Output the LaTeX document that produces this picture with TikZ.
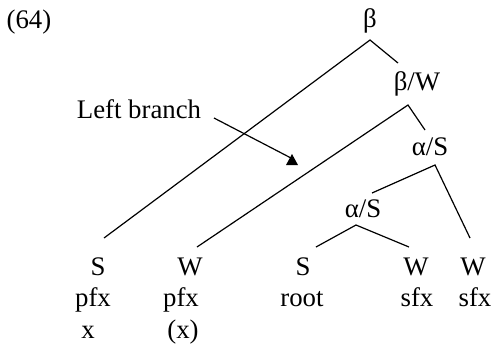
\documentclass[tikz,border=0pt]{standalone}
\usepackage{fontspec}
\setmainfont{Liberation Serif}
\begin{document}
\begin{tikzpicture}[x=0.5pt,y=-0.5pt,
  lbl/.style={inner sep=0pt,anchor=base,font=\fontsize{13.4}{16}\selectfont},
  br/.style={line width=0.6pt}]
\useasboundingbox (0,0) rectangle (492,345);
% labels
\node[lbl] (ex) at (29,28) {(64)};
\node[lbl] (beta) at (370,27) {β};
\node[lbl] (bw) at (417,90) {β/W};
\node[lbl] (as1) at (430,155) {α/S};
\node[lbl] (as2) at (363,217) {α/S};
\node[lbl] (lb) at (139,118) {Left branch};
% leaves
\node[lbl] (s1) at (98,275) {S};
\node[lbl] (p1) at (93,306) {pfx};
\node[lbl] (x1) at (88,338) {x};
\node[lbl] (w1) at (190,275) {W};
\node[lbl] (p2) at (181,306) {pfx};
\node[lbl] (x2) at (183,338) {(x)};
\node[lbl] (s2) at (303,275) {S};
\node[lbl] (r2) at (302,306) {root};
\node[lbl] (w2) at (416,275) {W};
\node[lbl] (f2) at (417,306) {sfx};
\node[lbl] (w3) at (473,275) {W};
\node[lbl] (f3) at (475,306) {sfx};
% attachment points
\coordinate (betaA) at (370,40);
\coordinate (bwT) at (398,63);
\coordinate (bwA) at (408,105);
\coordinate (as1T) at (425,130);
\coordinate (as1A) at (435,165);
\coordinate (as2T) at (372,193);
\coordinate (as2A) at (356,225);
\coordinate (s1T) at (104,238);
\coordinate (w1T) at (197,247);
\coordinate (s2T) at (316,247);
\coordinate (w2T) at (409,247);
\coordinate (w3T) at (470,238);
\coordinate (lbS) at (214,118);
\coordinate (lbE) at (291,158);
\coordinate (lbTip) at (292,154);
% branches
\draw[br] (s1T) -- (betaA) -- (bwT);
\draw[br] (w1T) -- (bwA) -- (as1T);
\draw[br] (as2T) -- (as1A) -- (w3T);
\draw[br] (s2T) -- (as2A) -- (w2T);
% arrow
\draw[br] (lbS) -- (lbE);
\fill (lbTip) -- ++(6,11) -- ++(-12,0) -- cycle;
\end{tikzpicture}
\end{document}
